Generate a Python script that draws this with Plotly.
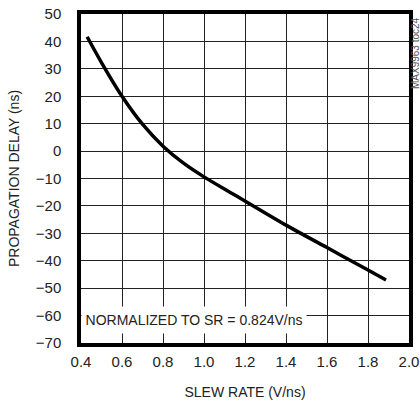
import plotly.graph_objects as go

slew_rate = [0.43, 0.5, 0.6, 0.7, 0.8, 0.9, 1.0, 1.15, 1.4, 1.6, 1.8, 1.888]
prop_delay = [41.7, 32.3, 20, 9.8, 1.8, -4.4, -9.4, -16, -27, -35.2, -43.4, -47]

x_ticks = [0.4, 0.6, 0.8, 1.0, 1.2, 1.4, 1.6, 1.8, 2.0]
x_tick_text = ["0.4", "0.6", "0.8", "1.0", "1.2", "1.4", "1.6", "1.8", "2.0"]
y_ticks = [50, 40, 30, 20, 10, 0, -10, -20, -30, -40, -50, -60, -70]

FONT = "Liberation Sans Narrow, Arial Narrow, Liberation Sans, sans-serif"

fig = go.Figure()
fig.add_trace(go.Scatter(x=slew_rate, y=prop_delay, mode="lines",
                         line=dict(color="black", width=3.5, shape="spline", smoothing=1.0),
                         showlegend=False, hoverinfo="skip"))

fig.update_layout(
    width=420, height=404,
    margin=dict(l=81, r=11, t=14, b=61),
    paper_bgcolor="white", plot_bgcolor="white",
    font=dict(family=FONT, size=15, color="#222"),
    xaxis=dict(range=[0.4, 2.0], tickvals=x_ticks, ticktext=x_tick_text,
               showgrid=True, gridcolor="#222", gridwidth=1,
               showline=True, linecolor="black", linewidth=3.5, mirror=True,
               ticks="", ticklabelstandoff=2, zeroline=False, automargin=False,
               ticklabeloverflow="allow",
               tickfont=dict(size=15),
               title=dict(text="SLEW RATE (V/ns)", font=dict(size=14), standoff=19)),
    yaxis=dict(range=[-70, 50], tickvals=y_ticks,
               showgrid=True, gridcolor="#222", gridwidth=1,
               showline=True, linecolor="black", linewidth=3.5, mirror=True,
               ticks="", ticklabelstandoff=13, zeroline=False, automargin=False,
               ticklabeloverflow="allow",
               tickfont=dict(size=15),
               title=dict(text="PROPAGATION DELAY (ns)", font=dict(size=14), standoff=14)),
)

fig.add_annotation(x=0.95, y=-61.7, xref="x", yref="y",
                   text="NORMALIZED TO SR = 0.824V/ns", showarrow=False,
                   font=dict(size=14, color="#222"), bgcolor="white",
                   width=218, height=20, borderpad=3)

fig.add_annotation(x=1.0, y=1.0, xref="paper", yref="paper",
                   xanchor="center", yanchor="top", xshift=6, yshift=-1,
                   text="MAX9963 toc24", textangle=-90, showarrow=False,
                   font=dict(size=10, color="#555"))

# remove the browser's default 8px body margin so the figure fills the window exactly
fig.write_html("out.html", config={"displayModeBar": False},
               post_script="document.body.style.margin='0';")
